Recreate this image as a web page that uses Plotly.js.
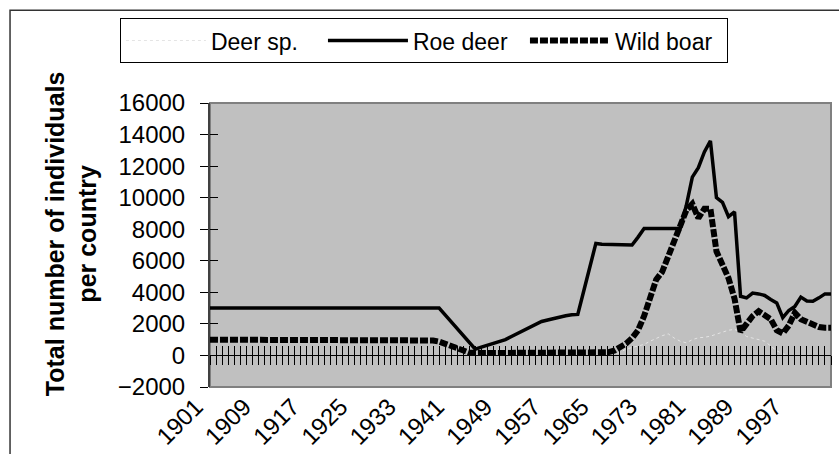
<!DOCTYPE html>
<html>
<head>
<meta charset="utf-8">
<script src="https://cdn.plot.ly/plotly-3.0.1.min.js"></script>
<style>html,body{margin:0;padding:0;background:#fff;}#chart{width:839px;height:454px;}</style>
</head>
<body>
<div id="chart"></div>
<script>
// Years 1901..2004
const years = [];
for (let y = 1901; y <= 2004; y++) years.push(y);

const tickYears = [1901,1909,1917,1925,1933,1941,1949,1957,1965,1973,1981,1989,1997];
const tickLabels = ["1901","1909","1917","1925","1933","1941","1949","1957","1965","1973","1981","1989","1997"];

// Deer sp. (1901..2004)
const deerSp = [
  0,0,0,0,0,0,0,0,0,0,            // 1901-1910
  0,0,0,0,0,0,0,0,0,0,            // 1911-1920
  0,0,0,0,0,0,0,0,0,0,            // 1921-1930
  0,0,0,0,0,0,0,0,0,0,            // 1931-1940
  0,0,0,0,0,0,0,0,0,0,            // 1941-1950
  0,0,0,0,0,0,0,0,0,0,            // 1951-1960
  0,0,0,0,0,0,0,0,200,400,        // 1961-1970
  500,600,700,900,1100,1250,1370,1100,900,800,   // 1971-1980
  1000,1120,1150,1220,1350,1500,1600,1650,1500,1200, // 1981-1990
  1100,1000,900,600,300,100,0,0,0,0,  // 1991-2000
  0,0,0,0                          // 2001-2004
];

// Roe deer
const roeDeer = [
  3000,3000,3000,3000,3000,3000,3000,3000,3000,3000,   // 1901-1910
  3000,3000,3000,3000,3000,3000,3000,3000,3000,3000,   // 1911-1920
  3000,3000,3000,3000,3000,3000,3000,3000,3000,3000,   // 1921-1930
  3000,3000,3000,3000,3000,3000,3000,3000,3000,2570,   // 1931-1940
  2130,1700,1270,830,400,530,660,790,920,1000,         // 1941-1950
  1200,1400,1590,1780,1980,2150,2250,2350,2450,2520,   // 1951-1960
  2580,2600,4100,5600,7100,7050,7050,7050,7000,7000,   // 1961-1970
  7000,7500,8050,8050,8050,8050,8050,8050,8050,9500,   // 1971-1980
  11300,11900,12900,13600,10000,9700,8800,9100,3750,3650, // 1981-1990
  3950,3900,3800,3550,3330,2400,2850,3100,3700,3450,   // 1991-2000
  3430,3650,3900,3900                                  // 2001-2004
];

// Wild boar
const wildBoar = [
  1000,1000,1000,1000,1000,1000,1000,1000,1000,1000,   // 1901-1910
  1000,1000,1000,1000,1000,1000,1000,1000,1000,1000,   // 1911-1920
  1000,1000,1000,1000,1000,1000,1000,1000,1000,1000,   // 1921-1930
  1000,1000,1000,1000,1000,1000,1000,950,880,750,      // 1931-1940
  600,480,300,180,150,150,150,150,150,150,             // 1941-1950
  150,150,150,150,150,150,150,150,150,150,             // 1951-1960
  150,150,150,150,150,150,200,300,500,750,             // 1961-1970
  1100,1600,2500,3600,4800,5300,6300,7400,8200,9200,   // 1971-1980
  9600,8700,9300,9300,6600,5800,4900,3600,1500,2000,   // 1981-1990
  2500,2800,2500,2300,1600,1400,1900,2700,2300,2150,   // 1991-2000
  1900,1800,1750,1750                                  // 2001-2004
];

const FONT = 'Arial, "Liberation Sans", sans-serif';
const X0 = 1901, X1 = 2004;
const yPos0 = (0 - (-2000)) / 18000;

const traces = [
  {x: years, y: deerSp, name: 'Deer sp.', type: 'scatter', mode: 'lines',
   xaxis: 'x2', yaxis: 'y',
   line: {color: '#e4e4e4', width: 1, dash: 'dot'}},
  {x: years, y: roeDeer, name: 'Roe deer', type: 'scatter', mode: 'lines',
   xaxis: 'x', yaxis: 'y',
   line: {color: '#000000', width: 3.5}},
  {x: years, y: wildBoar, name: 'Wild boar', type: 'scatter', mode: 'lines',
   xaxis: 'x3', yaxis: 'y2',
   line: {color: '#000000', width: 6, dash: '8px,2px'}}
];

const layout = {
  width: 839, height: 454,
  margin: {l: 210, r: 8, t: 103, b: 67},
  paper_bgcolor: '#ffffff',
  plot_bgcolor: '#c0c0c0',
  font: {family: FONT, color: '#000'},
  showlegend: true,
  legend: {
    orientation: 'h', x: -0.145, y: 1.299, xanchor: 'left', yanchor: 'top',
    bgcolor: '#ffffff', bordercolor: '#000000', borderwidth: 1,
    font: {family: FONT, size: 23, color: '#000'},
    itemwidth: 80, entrywidth: 107, entrywidthmode: 'pixels', traceorder: 'normal'
  },
  xaxis: {
    type: 'linear', range: [X0, X1], fixedrange: true,
    tickmode: 'array', tickvals: tickYears, ticktext: tickLabels,
    tickangle: -45, ticks: '', showgrid: false, zeroline: false,
    showline: false,
    tickfont: {family: FONT, size: 24, color: '#000'},
    ticklabelshift: -14
  },
  xaxis2: {
    type: 'linear', range: [X0, X1], overlaying: 'x', anchor: 'free', position: yPos0,
    tickmode: 'linear', tick0: 1901, dtick: 1, ticks: 'outside', ticklen: 9,
    tickwidth: 1, tickcolor: '#000', showticklabels: false, showgrid: false,
    zeroline: false, showline: true, linecolor: '#000', linewidth: 1
  },
  xaxis3: {
    type: 'linear', range: [X0, X1], overlaying: 'x', anchor: 'free', position: yPos0,
    tickmode: 'linear', tick0: 1901, dtick: 1, ticks: 'inside', ticklen: 9,
    tickwidth: 1, tickcolor: '#000', showticklabels: false, showgrid: false,
    zeroline: false, showline: false
  },
  yaxis: {
    range: [-2000, 16000], dtick: 2000, tick0: 0, fixedrange: true, tickformat: 'd',
    ticks: 'outside', ticklen: 8, tickwidth: 1, tickcolor: '#000',
    showgrid: false, zeroline: false, showline: true, linecolor: '#404040', linewidth: 2,
    tickfont: {family: FONT, size: 24, color: '#000'},
    ticklabelstandoff: 10
  },
  yaxis2: {
    range: [-2000, 16000], dtick: 2000, tick0: 0, overlaying: 'y', side: 'left', anchor: 'x',
    ticks: 'inside', ticklen: 8, tickwidth: 1, tickcolor: '#000',
    showticklabels: false, showgrid: false, zeroline: false, showline: false
  },
  shapes: [
    {type: 'rect', xref: 'paper', yref: 'paper', x0: 0, x1: 1, y0: 0, y1: 1,
     line: {color: '#808080', width: 2}, layer: 'below'},
    {type: 'rect', xref: 'paper', yref: 'paper', x0: -0.322, x1: 2, y0: -1, y1: 1.327,
     line: {color: '#333333', width: 1.5}, layer: 'below'}
  ],
  annotations: [
    {xref: 'paper', yref: 'paper', x: -0.223, y: 0.54, xanchor: 'center', yanchor: 'middle',
     textangle: -90, showarrow: false,
     text: '<b>Total number of individuals<br>per country</b>',
     font: {family: FONT, size: 25, color: '#000'}}
  ]
};

Plotly.newPlot('chart', traces, layout, {displayModeBar: false, staticPlot: true});
</script>
</body>
</html>
